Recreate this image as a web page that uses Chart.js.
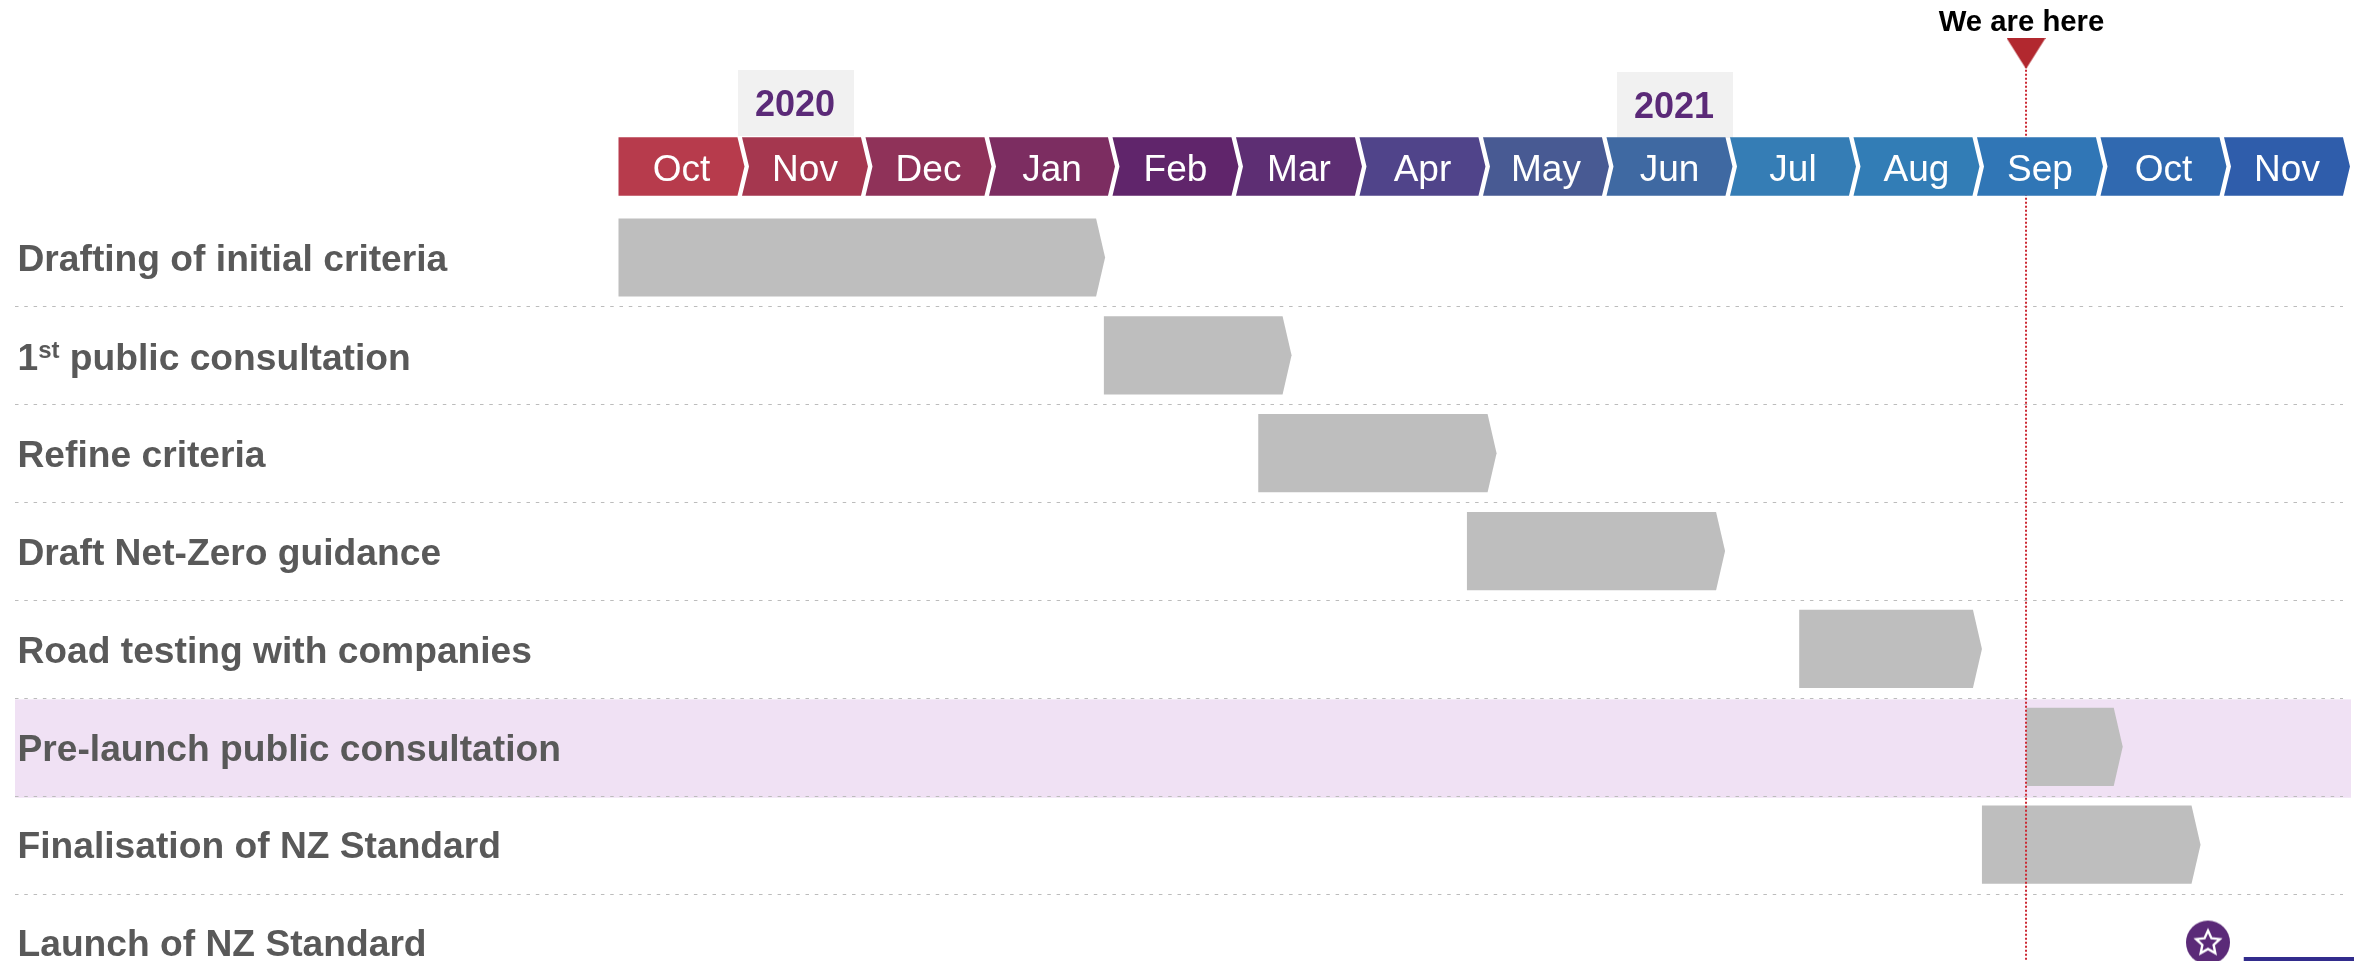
<!DOCTYPE html>
<html><head><meta charset="utf-8">
<style>html,body{margin:0;padding:0;background:#fff}canvas{display:block}</style>
<script src="https://cdn.jsdelivr.net/npm/chart.js@4/dist/chart.umd.min.js"></script>
</head><body><canvas id="c" width="2354" height="961"></canvas>
<script>
const months=['Oct','Nov','Dec','Jan','Feb','Mar','Apr','May','Jun','Jul','Aug','Sep','Oct','Nov'];
const monthStart=[0,1,2,3,4,5,6,7,8,9,10,11,12,13];
const monthEnd=[1.02,2.02,3.02,4.02,5.02,6.02,7.02,8.02,9.02,10.02,11.02,12.02,13.02,14.02];
const monthColors=['#b73b4c','#a5374f','#8f3259','#7c2d61','#60256b','#5d2e73','#50448a','#485a93','#3f69a2','#357db5','#327db6','#3076b6','#3069b0','#2f5dab'];
const years=['2020','2021'];
const yearFrom=[0.968,8.085];
const yearTo=[1.907,9.024];
const tasks=['Drafting of initial criteria','1st public consultation','Refine criteria','Draft Net-Zero guidance','Road testing with companies','Pre-launch public consultation','Finalisation of NZ Standard','Launch of NZ Standard'];
const taskStart=[0,3.93,5.18,6.87,9.56,11.4,11.04];
const taskEnd=[3.94,5.45,7.11,8.96,11.04,12.18,12.81];
const launchStar=12.87;
const launchBar=[13.16,14.2];
const nowX=11.397;
const highlightRow=5;

const PX0=618.5,PITCH=123.5,RY0=257.5,RP=97.86;
const F='"Liberation Sans", Arial, sans-serif';

Chart.BarElement.prototype.draw=function(ctx){
  const p=this.getProps(['x','y','base','height'],true);
  const tip=this.tipDepth||0;
  const notch=this.notchDepth||0;
  const t=p.y-p.height/2,b=p.y+p.height/2;
  ctx.save();
  ctx.fillStyle=this.options.backgroundColor;
  ctx.beginPath();
  ctx.moveTo(p.base,t);
  ctx.lineTo(p.x-tip,t);
  ctx.lineTo(p.x,p.y);
  ctx.lineTo(p.x-tip,b);
  ctx.lineTo(p.base,b);
  if(notch)ctx.lineTo(p.base+notch,p.y);
  ctx.closePath();
  ctx.fill();
  ctx.restore();
};

function triangleImg(){
  const c=document.createElement('canvas');c.width=39;c.height=31;
  const g=c.getContext('2d');g.fillStyle='#b2282f';
  g.beginPath();g.moveTo(0,0);g.lineTo(39,0);g.lineTo(19.5,31);g.closePath();g.fill();
  return c;
}
function starImg(){
  const c=document.createElement('canvas');c.width=46;c.height=46;
  const g=c.getContext('2d');
  g.fillStyle='#5b2a78';g.beginPath();g.arc(23,23,22,0,Math.PI*2);g.fill();
  g.strokeStyle='#fff';g.lineWidth=2.4;g.lineJoin='miter';g.beginPath();
  for(let i=0;i<10;i++){
    const r=i%2?5.9:12.4,a=-Math.PI/2+i*Math.PI/5;
    const x=23+r*Math.cos(a),y=23.5+r*Math.sin(a);
    i?g.lineTo(x,y):g.moveTo(x,y);
  }
  g.closePath();g.stroke();
  return c;
}

const backdrop={
  id:'backdrop',
  afterDatasetsUpdate(chart){
    chart.data.datasets.forEach((ds,i)=>{
      if(ds.type==='scatter')return;
      chart.getDatasetMeta(i).data.forEach((el,j)=>{el.tipDepth=ds.tipDepth;el.notchDepth=j===0?0:ds.notchDepth;});
    });
  },
  beforeDraw(chart){
    const {ctx,scales:{x,y}}=chart;
    const L=15,R=2343;
    ctx.save();
    ctx.fillStyle='#f0e1f4';
    ctx.fillRect(L,y.getPixelForValue(highlightRow-0.5)+1.5,2351-L,y.getPixelForValue(highlightRow+0.5)-y.getPixelForValue(highlightRow-0.5)+0.5);
    ctx.strokeStyle='#bcbcbc';ctx.lineWidth=1.2;ctx.setLineDash([3.5,5.8]);
    for(let i=0;i<7;i++){
      const py=Math.round(y.getPixelForValue(i+0.5))+0.5;
      ctx.beginPath();ctx.moveTo(L,py);ctx.lineTo(R,py);ctx.stroke();
    }
    ctx.setLineDash([]);
    ctx.font='bold 36px '+F;ctx.textAlign='center';ctx.textBaseline='middle';
    const tops=[70,72],cy=[106.5,108.5];
    years.forEach((t,i)=>{
      const a=x.getPixelForValue(yearFrom[i]),b=x.getPixelForValue(yearTo[i]);
      ctx.fillStyle='#f1f1f1';ctx.fillRect(a,tops[i],b-a,66);
      ctx.fillStyle='#5b2a78';ctx.fillText(t,(a+b)/2-1,cy[i]);
    });
    ctx.fillStyle='#000';ctx.font='bold 29.3px '+F;
    ctx.fillText('We are here',2021.5,22.5);
    ctx.restore();
  },
  afterDatasetsDraw(chart){
    const {ctx,scales:{y}}=chart;
    const meta=chart.getDatasetMeta(0);
    ctx.save();
    ctx.fillStyle='#fff';ctx.font='37px '+F;ctx.textAlign='center';ctx.textBaseline='middle';
    meta.data.forEach((el,i)=>{
      ctx.fillText(months[i],(el.base+el.x)/2,el.y+4);
    });
    const py=y.getPixelForValue(1)+3;
    ctx.fillStyle='#595959';ctx.textAlign='left';ctx.textBaseline='middle';
    ctx.font='bold 37.2px '+F;
    ctx.fillText('1',17.5,py+1);
    let cx=17.5+ctx.measureText('1').width;
    ctx.font='bold 24px '+F;
    ctx.fillText('st',cx,py-7);
    cx+=ctx.measureText('st').width;
    ctx.font='bold 37.2px '+F;
    ctx.fillText(' public consultation',cx,py+1);
    ctx.restore();
  }
};

new Chart(document.getElementById('c'),{
  type:'bar',
  data:{datasets:[
    {label:'Months',indexAxis:'y',grouped:false,order:1,barThickness:58.6,tipDepth:7,notchDepth:7,
     data:monthStart.map((s,i)=>({x:[s,monthEnd[i]],y:-0.93})),backgroundColor:monthColors},
    {label:'We are here',type:'scatter',order:2,showLine:true,borderColor:'#cc2833',borderWidth:2,borderDash:[2,2],
     data:[{x:nowX,y:-2.0},{x:nowX,y:8}],pointRadius:0,pointHoverRadius:0},
    {label:'We are here marker',type:'scatter',order:0,
     data:[{x:nowX,y:-2.085}],pointStyle:triangleImg(),pointRadius:20},
    {label:'Activities',indexAxis:'y',grouped:false,order:3,barThickness:78.2,tipDepth:9,
     data:taskStart.map((s,i)=>({x:[s,taskEnd[i]],y:i})),backgroundColor:'#bebebe'},
    {label:'Launch',indexAxis:'y',grouped:false,order:3,barThickness:30,
     data:[{x:launchBar,y:7.3}],backgroundColor:'#322c8c'},
    {label:'Launch star',type:'scatter',order:0,
     data:[{x:launchStar,y:7}],pointStyle:starImg(),pointRadius:23}
  ]},
  plugins:[backdrop],
  options:{
    responsive:false,animation:false,
    layout:{padding:0,autoPadding:false},
    plugins:{legend:{display:false},title:{display:false},tooltip:{enabled:false}},
    scales:{
      x:{type:'linear',display:false,offset:false,grid:{offset:false},min:(0-PX0)/PITCH,max:(2354-PX0)/PITCH},
      y:{type:'linear',reverse:true,offset:false,min:(0-RY0)/RP,max:(961-RY0)/RP,
        border:{display:false},grid:{display:false,drawTicks:false,offset:false},
        afterBuildTicks(s){s.ticks=tasks.map((t,i)=>({value:i}));},
        afterFit(s){s.width=0;s.paddingTop=0;s.paddingBottom=0;},
        ticks:{mirror:true,padding:17.5,labelOffset:3.5,autoSkip:false,color:'#595959',font:{family:F,size:37.2,weight:'bold'},
          callback:(v)=>v===1?'':tasks[v]}
      }
    }
  }
});
</script></body></html>
